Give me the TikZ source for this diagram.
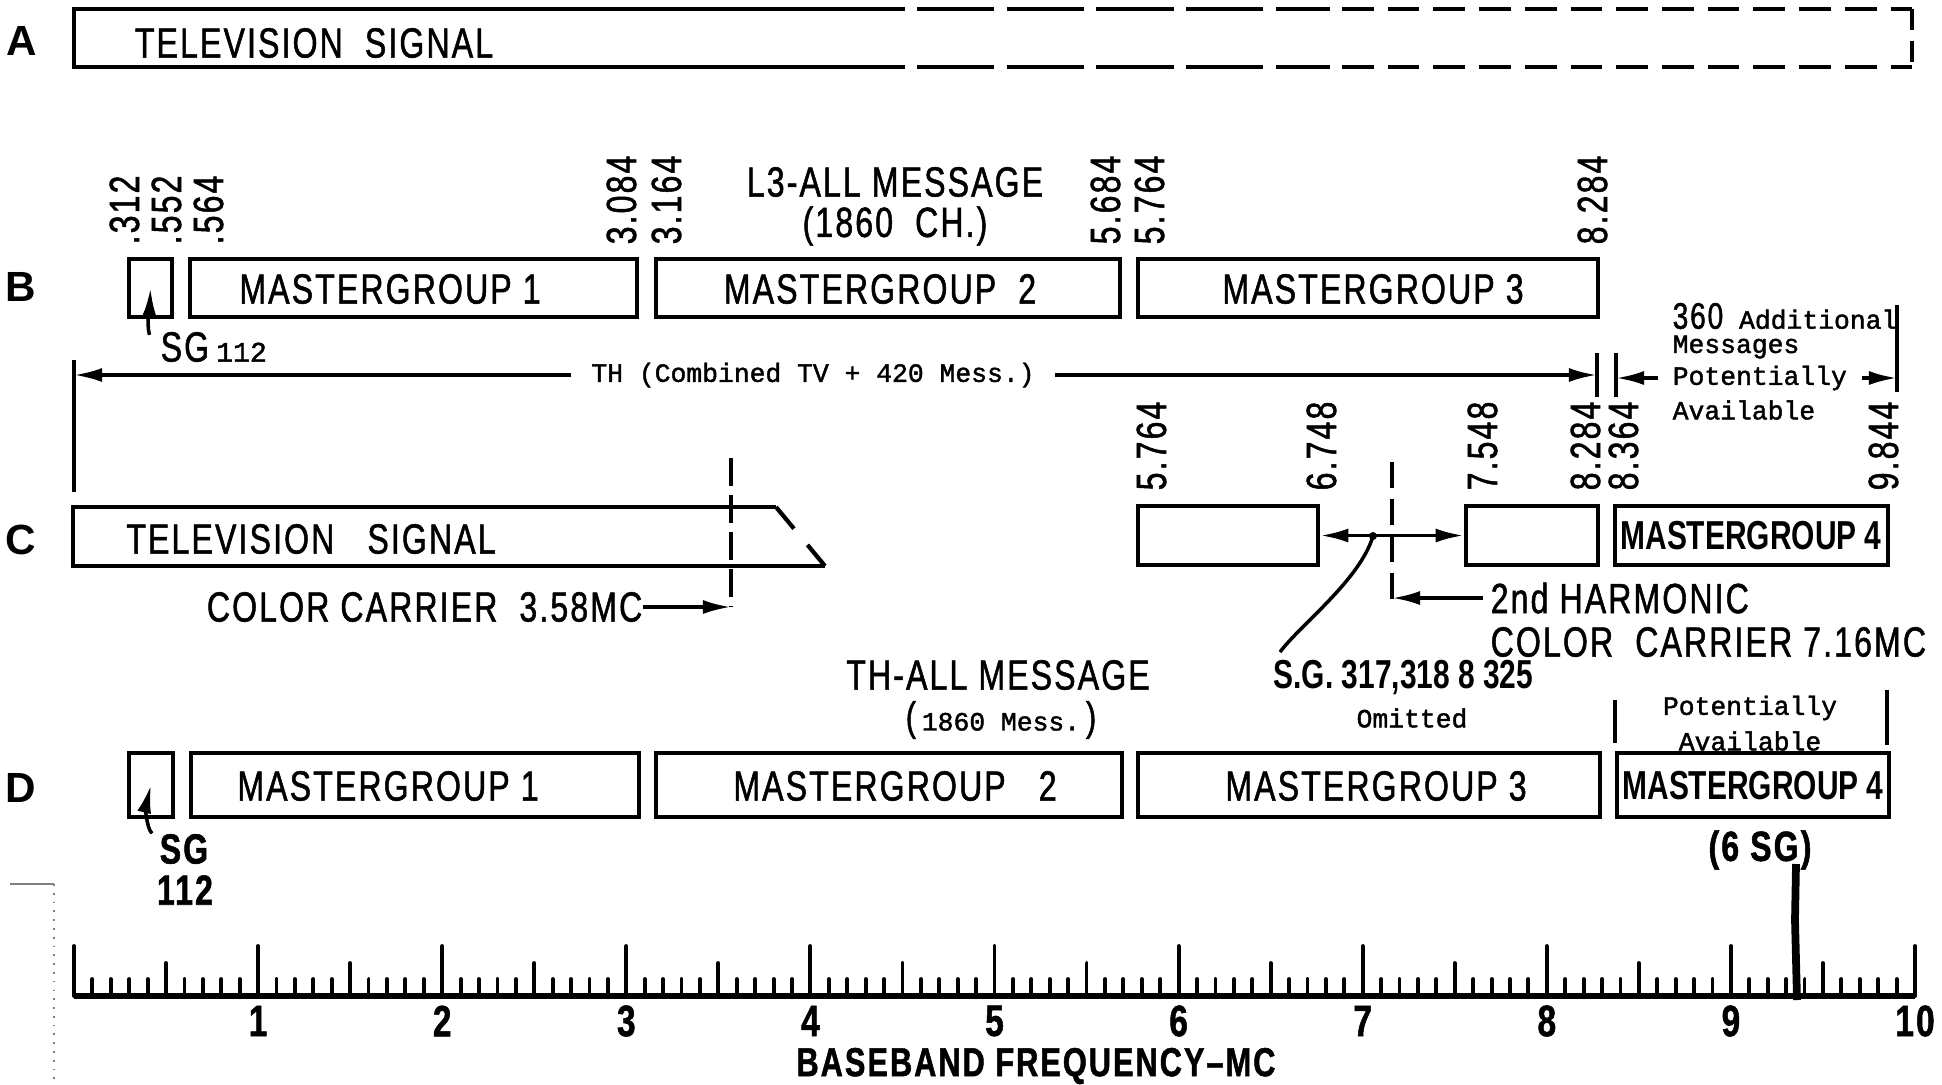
\documentclass[tikz,border=0pt]{standalone}
\usepackage{fontspec}
\setmainfont{Liberation Sans}
\newfontfamily\lr[FakeStretch=0.76,LetterSpace=5,FakeBold=1.2]{Liberation Sans}
\newfontfamily\lrc[FakeStretch=0.74]{Liberation Sans}
\newfontfamily\tw[FakeBold=1.6]{Liberation Mono}
\usetikzlibrary{fit,arrows.meta}
\tikzset{
  lbl/.style={inner sep=0pt, font=\lr\fontsize{12}{14}\selectfont},
  lblb/.style={inner sep=0pt, font=\lr\bfseries\fontsize{12}{14}\selectfont},
  axl/.style={inner sep=0pt, font=\lr\bfseries\fontsize{12.5}{14}\selectfont},
  cnd/.style={inner sep=0pt, font=\lrc\bfseries\fontsize{11.5}{13}\selectfont},
  num/.style={inner sep=0pt, rotate=90, anchor=base west, font=\lr\fontsize{12}{14}\selectfont},
  tt/.style={inner sep=0pt, font=\tw\fontsize{7.5}{9}\selectfont},
  rowl/.style={inner sep=0pt, font=\bfseries\fontsize{12}{14}\selectfont},
  box/.style={draw, line width=1.3pt, inner sep=0pt},
  thin/.style={line width=1.2pt},
  arr/.style={line width=1pt, -{Latex[length=8pt,width=4pt]}},
  darr/.style={line width=1pt, {Latex[length=8pt,width=4pt]}-{Latex[length=8pt,width=4pt]}},
}
\begin{document}
\begin{tikzpicture}[x=0.01cm, y=-0.01cm]
\useasboundingbox (0,0) rectangle (1942,1084);
\fill[white] (0,0) rectangle (1942,1084);

% ---------- row labels
\node[rowl] (rA) at (22,41) {A};
\node[rowl] (rB) at (21,287) {B};
\node[rowl] (rC) at (21,540) {C};
\node[rowl] (rD) at (21,788) {D};

% ---------- Row A
\draw[thin, line width=1.3pt] (905,9) -- (74,9) -- (74,67) -- (905,67);
\draw[thin, line width=1.3pt, dash pattern=on 22pt off 3.5pt] (917,9) -- (1330,9);
\draw[thin, line width=1.3pt, dash pattern=on 22pt off 3.5pt] (917,67) -- (1330,67);
\draw[thin, line width=1.3pt, dash pattern=on 9pt off 4pt] (1342,9) -- (1912,9);
\draw[thin, line width=1.3pt, dash pattern=on 9pt off 4pt] (1342,67) -- (1912,67);
\draw[thin, line width=1.3pt, dash pattern=on 6pt off 3pt] (1912,9) -- (1912,67);
\node[lbl] (tvA) at (314,43) {TELEVISION\ \ SIGNAL};

% ---------- Row B
\node[box, fit={(129,259) (172,317)}] (sgB) {};
\node[box, fit={(190,259) (637,317)}] (mg1B) {};
\node[box, fit={(656,259) (1120,317)}] (mg2B) {};
\node[box, fit={(1138,259) (1598,317)}] (mg3B) {};
\node[lbl] (tmg1B) at (390,289) {MASTERGROUP 1};
\node[lbl] (tmg2B) at (880,289) {MASTERGROUP\ \ 2};
\node[lbl] (tmg3B) at (1373,289) {MASTERGROUP 3};

\node[num] (nb1) at (139,245) {.312};
\node[num] (nb2) at (181,245) {.552};
\node[num] (nb3) at (223,245) {.564};
\node[num] (nb4) at (636,245) {3.084};
\node[num] (nb5) at (681,245) {3.164};
\node[num] (nb6) at (1120,245) {5.684};
\node[num] (nb7) at (1164,245) {5.764};
\node[num] (nb8) at (1607,245) {8.284};

\node[lbl] (l3a) at (895,182) {L3-ALL MESSAGE};
\node[lbl] (l3b) at (895,226) {(1860\ \ CH.)};

\node[lbl, anchor=west] (sgtB) at (160,347) {SG\,{\tw\fontsize{8}{9}\selectfont 112}};
\draw[arr] ([xshift=-3pt,yshift=-1pt]sgtB.north west) .. controls (146,322) and (150,300) .. (sgB.center);

% TH line
\coordinate (thL) at (74,375);
\coordinate (thR) at (1597,375);
\draw[thin] (74,360) -- (74,492);
\node[tt, inner xsep=5.5pt] (th) at (813,375) {TH (Combined TV + 420 Mess.)};
\draw[arr] (th.west) -- (thL);
\draw[arr] (th.east) -- (thR);
\draw[thin] (1597,353) -- (1597,397);
\draw[thin] (1616,353) -- (1616,397);
\draw[thin] (1897,305) -- (1897,392);
\coordinate (b8364) at (1616,378);
\coordinate (b9844) at (1897,378);
\node[tt, anchor=west] (ad1) at (1672,316) {{\lr\fontsize{10.5}{12}\selectfont 360} Additional};
\node[tt, anchor=west] (ad2) at (1672,347) {Messages};
\node[tt, anchor=west, inner xsep=4pt] (ad3) at (1658,378) {Potentially};
\node[tt, anchor=west] (ad4) at (1672,410) {Available};
\draw[arr] (ad3.west) -- (b8364);
\draw[arr] (ad3.east) -- (b9844);

% ---------- Row C
\coordinate (tv1) at (776,507);
\coordinate (tv2) at (73,507);
\coordinate (tv3) at (73,566);
\coordinate (tv4) at (825,566);
\draw[thin, line width=1.3pt] (tv1) -- (tv2) -- (tv3) -- (tv4);
\draw[thin, dash pattern=on 8pt off 6pt] (tv1) -- (tv4);
\node[lbl] (tvC) at (311,539) {TELEVISION\ \ \ SIGNAL};
\coordinate (c358) at (731,607);
\draw[thin, dash pattern=on 8pt off 2.5pt] (731,458) -- (c358);
\node[lbl, anchor=east] (cc358) at (643,607) {COLOR CARRIER\ \ 3.58MC};
\draw[arr] (cc358.east) -- (c358);

\node[box, fit={(1138,506) (1318,565)}] (c1) {};
\node[box, fit={(1466,506) (1598,565)}] (c2) {};
\node[box, fit={(1615,506) (1888,565)}] (mg4C) {};
\node[cnd] (tmg4C) at (1751,536) {MASTERGROUP 4};

\node[num] (nc1) at (1166,491) {5.764};
\node[num] (nc2) at (1336,491) {6.748};
\node[num] (nc3) at (1497,491) {7.548};
\node[num] (nc4) at (1600,491) {8.284};
\node[num] (nc5) at (1638,491) {8.364};
\node[num] (nc6) at (1898,491) {9.844};

\draw[darr] (c1.east) -- (c2.west);
\coordinate (jn) at (1373,536);
\fill (jn) circle (4);
\coordinate (h716) at (1392,598);
\draw[thin, dash pattern=on 7.5pt off 3pt] (1392,462) -- (1392,606);
\node[lbl, anchor=west, inner xsep=2pt] (harm) at (1483,598) {2nd HARMONIC};
\node[lbl, anchor=west] (cc716) at (1490,642) {COLOR\ \ CARRIER 7.16MC};
\draw[arr] (harm.west) -- (h716);

\node[lbl] (thall) at (998,675) {TH-ALL MESSAGE};
\node[inner sep=0pt] (thall2) at (1001,720) {{\lr\fontsize{11.5}{13}\selectfont (}\,{\tw\fontsize{7.5}{9}\selectfont 1860 Mess.}\,{\lr\fontsize{11.5}{13}\selectfont )}};
\node[cnd, anchor=west] (sgom) at (1273,677) {S.G. 317,318 8 325};
\draw[line width=1pt] ([xshift=2pt,yshift=2pt]sgom.north west) .. controls (1300,625) and (1360,580) .. (jn);
\node[tt] (omit) at (1412,718) {Omitted};
\node[tt] (pa1) at (1750,708) {Potentially};
\node[tt] (pa2) at (1750,741) {Available};
\draw[thin] (1615,700) -- (1615,743);
\draw[thin] (1887,690) -- (1887,745);

% ---------- Row D
\node[box, fit={(129,753) (173,817)}] (sgD) {};
\node[box, fit={(191,753) (639,817)}] (mg1D) {};
\node[box, fit={(656,753) (1122,817)}] (mg2D) {};
\node[box, fit={(1138,753) (1600,817)}] (mg3D) {};
\node[box, fit={(1617,753) (1889,817)}] (mg4D) {};
\node[lbl] (tmg1D) at (388,786) {MASTERGROUP 1};
\node[lbl] (tmg2D) at (895,786) {MASTERGROUP\ \ \ 2};
\node[lbl] (tmg3D) at (1376,786) {MASTERGROUP 3};
\node[cnd] (tmg4D) at (1753,786) {MASTERGROUP 4};
\node[lblb] (sgtD1) at (184,849) {SG};
\node[lblb] (sgtD2) at (185,890) {112};
\draw[arr] ([xshift=-2pt]sgtD1.north west) .. controls (146,828) and (146,805) .. (sgD.center);
\node[lblb] (sg6) at (1760,850) {(6 SG)};
\draw[line width=2.2pt] (1796,864) -- (1795,920) -- (1797,1000);

% ---------- Axis
\coordinate (ax0) at (74,996);
\coordinate (ax10) at (1915,996);
\draw[line width=1.5pt] (ax0) -- (ax10);
\foreach \i in {0,...,100}{
  \pgfmathsetmacro\xx{74+18.41*\i}
  \pgfmathsetmacro\hh{ifthenelse(mod(\i,10)==0,50,ifthenelse(mod(\i,5)==0,33,17))}
  \draw[line width=1.1pt, line cap=round] (\xx,996) -- (\xx,{996-\hh});
}
\foreach \n in {1,...,10}{
  \node[axl] (ax\n lab) at ({74+184.1*\n},1021) {\n};
}
\node[lblb, font=\lr\bfseries\fontsize{11.5}{13}\selectfont] (bb) at (1036,1066) {BASEBAND FREQUENCY–MC};

% scan edge mark
\draw[line width=0.5pt, gray] (10,884) -- (54,884);
\draw[line width=0.5pt, gray, dotted] (54,884) -- (54,1084);
\end{tikzpicture}
\end{document}
